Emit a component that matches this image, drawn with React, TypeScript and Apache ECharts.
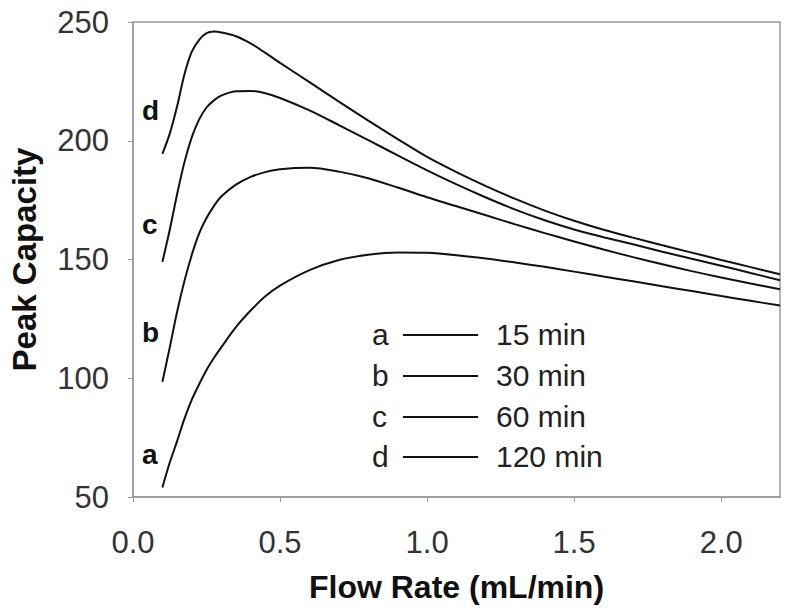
import React, { useEffect, useRef } from "react";
import * as echarts from "echarts";

const flowRates = [
  0.1, 0.125, 0.15, 0.175, 0.2, 0.225, 0.25, 0.275, 0.3, 0.35, 0.4, 0.45, 0.5,
  0.6, 0.7, 0.8, 0.9, 1.0, 1.1, 1.2, 1.3, 1.4, 1.5, 1.6, 1.7, 1.8, 1.9, 2.0, 2.1, 2.2,
];

const curveA = [
  54, 64.5, 73.5, 83, 91, 97.5, 103.5, 108.5, 113, 121.5, 128.5, 134.5, 139,
  145.5, 149.8, 152, 153, 152.8, 151.8, 150.4, 148.7, 146.9, 144.9, 142.8, 140.8, 138.7, 136.7, 134.6, 132.6, 130.6,
];
const curveB = [
  98.5, 113, 128, 141, 152, 161, 167.5, 172.5, 176.5, 181.5, 184.8, 186.8, 188,
  188.6, 187, 184.2, 180.3, 176.2, 172.4, 168.6, 164.8, 161.1, 157.6, 154.2, 151, 148, 145.1, 142.4, 139.9, 137.5,
];
const curveC = [
  149, 162.5, 177.5, 191, 201.5, 209, 214, 217, 219, 220.8, 221, 220, 218,
  212.8, 206.6, 200.3, 193.8, 187.5, 181.6, 176.1, 171, 166.5, 162.6, 159.4, 156.4, 153.3, 150.3, 147.4, 144.3, 141.3,
];
const curveD = [
  194.5, 203, 214.5, 228, 237.5, 242.5, 245.3, 246, 245.6, 244, 241, 237, 232.8,
  224.7, 216.5, 208.5, 200.7, 193.2, 186.8, 180.9, 175.5, 170.6, 166.3, 162.5, 159.2, 156, 152.9, 149.8, 146.8, 143.8,
];

const seriesKeys = ["a", "b", "c", "d"];
const seriesTimes = ["15 min", "30 min", "60 min", "120 min"];
const seriesValues = [curveA, curveB, curveC, curveD];

const xTicks = [0, 0.5, 1.0, 1.5, 2.0];
const yTicks = [50, 100, 150, 200, 250];

const FONT = "'Liberation Sans', Arial, sans-serif";

export default function App() {
  const ref = useRef<HTMLDivElement>(null);

  useEffect(() => {
    if (!ref.current) return;
    const chart = echarts.init(ref.current, null, { renderer: "svg" });

    const series = seriesValues.map((vals, i) => ({
      type: "line",
      name: seriesKeys[i],
      data: flowRates.map((x, j) => [x, vals[j]]),
      smooth: 0.3,
      showSymbol: false,
      lineStyle: { color: "#111", width: 2 },
      z: 3,
    }));

    const legendRowsY = [335, 376, 417, 457];
    const graphics: any[] = [];
    seriesKeys.forEach((k, i) => {
      const y = legendRowsY[i];
      graphics.push({
        type: "text",
        left: 372,
        top: y - 16,
        style: { text: k, font: `30px ${FONT}`, fill: "#222" },
      });
      graphics.push({
        type: "line",
        shape: { x1: 403, y1: y, x2: 478, y2: y },
        style: { stroke: "#111", lineWidth: 2 },
      });
      graphics.push({
        type: "text",
        left: 496,
        top: y - 16,
        style: { text: seriesTimes[i], font: `30px ${FONT}`, fill: "#222" },
      });
    });

    const curveLabelPos = [
      { k: "a", y: 455 },
      { k: "b", y: 333 },
      { k: "c", y: 225 },
      { k: "d", y: 111 },
    ];
    curveLabelPos.forEach((p) => {
      graphics.push({
        type: "text",
        left: 142,
        top: p.y - 15,
        style: { text: p.k, font: `bold 28px ${FONT}`, fill: "#111" },
      });
    });

    chart.setOption({
      animation: false,
      backgroundColor: "#fff",
      grid: {
        left: 131,
        top: 22,
        right: 13,
        bottom: 113,
        show: true,
        borderColor: "#999",
        borderWidth: 1.5,
      },
      xAxis: {
        type: "value",
        min: 0,
        max: 2.2,
        interval: 0.5,
        name: "Flow Rate (mL/min)",
        nameLocation: "middle",
        nameGap: 74,
        nameTextStyle: { fontFamily: FONT, fontWeight: "bold", fontSize: 32, color: "#111" },
        axisLine: { show: true, lineStyle: { color: "#999", width: 1.5 } },
        axisTick: { show: true, length: 5, inside: false, lineStyle: { color: "#999" } },
        splitLine: { show: false },
        axisLabel: {
          show: true,
          margin: 30,
          fontFamily: FONT,
          fontSize: 31,
          color: "#333",
          showMaxLabel: false,
          formatter: (v: number) =>
            xTicks.some((t) => Math.abs(t - v) < 1e-6) ? v.toFixed(1) : "",
        },
      },
      yAxis: {
        type: "value",
        min: 50,
        max: 250,
        interval: 50,
        name: "Peak Capacity",
        nameLocation: "middle",
        nameGap: 92,
        nameTextStyle: { fontFamily: FONT, fontWeight: "bold", fontSize: 33, color: "#111" },
        axisLine: { show: true, lineStyle: { color: "#999", width: 1.5 } },
        axisTick: { show: true, length: 5, inside: false, lineStyle: { color: "#999" } },
        splitLine: { show: false },
        axisLabel: {
          show: true,
          margin: 24,
          fontFamily: FONT,
          fontSize: 31,
          color: "#333",
          formatter: (v: number) => (yTicks.includes(v) ? String(v) : ""),
        },
      },
      series,
      graphic: graphics,
    });

    return () => chart.dispose();
  }, []);

  return (
    <div
      ref={ref}
      style={{ position: "fixed", left: 0, top: 0, width: 793, height: 610, background: "#fff" }}
    />
  );
}
